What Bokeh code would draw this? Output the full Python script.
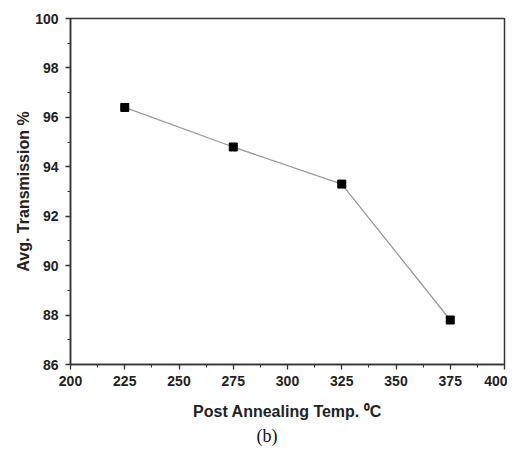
from bokeh.plotting import figure
from bokeh.models import Range1d, FixedTicker, Title
from bokeh.embed import file_html
from bokeh.resources import INLINE

temps = [225, 275, 325, 375]
transmission = [96.4, 94.8, 93.3, 87.8]
x_ticks = [200, 225, 250, 275, 300, 325, 350, 375, 400]
y_ticks = [86, 88, 90, 92, 94, 96, 98, 100]

p = figure(width=507, height=449, output_backend="svg", toolbar_location=None,
           x_range=Range1d(200, 400), y_range=Range1d(86, 100),
           min_border_left=70, min_border_right=3, min_border_top=18, min_border_bottom=85)
p.grid.visible = False
p.outline_line_color = "#333333"
p.outline_line_width = 1.5
p.background_fill_color = "white"
p.border_fill_color = "white"

p.line(temps, transmission, line_color="#999999", line_width=1.3)
p.scatter(temps, transmission, marker="square", size=8, fill_color="black", line_color="black")

font = "Liberation Sans"
p.xaxis.ticker = FixedTicker(ticks=x_ticks, minor_ticks=[200 + 12.5 * i for i in range(17)])
p.yaxis.ticker = FixedTicker(ticks=y_ticks, minor_ticks=list(range(86, 101)))
for ax in (p.xaxis, p.yaxis):
    ax.axis_line_color = "#333333"
    ax.axis_line_width = 1.5
    ax.major_tick_line_color = "#333333"
    ax.minor_tick_line_color = "#333333"
    ax.major_tick_line_width = 1.3
    ax.minor_tick_line_width = 1.0
    ax.major_tick_in = 0
    ax.major_tick_out = 5
    ax.minor_tick_in = 0
    ax.minor_tick_out = 3
    ax.major_label_text_font = font
    ax.major_label_text_font_style = "bold"
    ax.major_label_text_font_size = "14px"
    ax.major_label_text_color = "#222222"
    ax.axis_label_text_font = font
    ax.axis_label_text_font_style = "bold"
    ax.axis_label_text_font_size = "16px"
    ax.axis_label_text_color = "#222222"

p.xaxis.axis_label = "Post Annealing Temp. \u2070C"
p.yaxis.axis_label = "Avg. Transmission %"
p.xaxis.major_label_standoff = 6
p.xaxis.axis_label_standoff = 14
p.yaxis.major_label_standoff = 7
p.yaxis.axis_label_standoff = 0

p.add_layout(Title(text="(b)", align="left", text_font="Liberation Serif",
                   text_font_size="18px", text_font_style="normal", text_color="#111111",
                   offset=186, standoff=2), "below")

open("out.html", "w").write(file_html(p, INLINE))
